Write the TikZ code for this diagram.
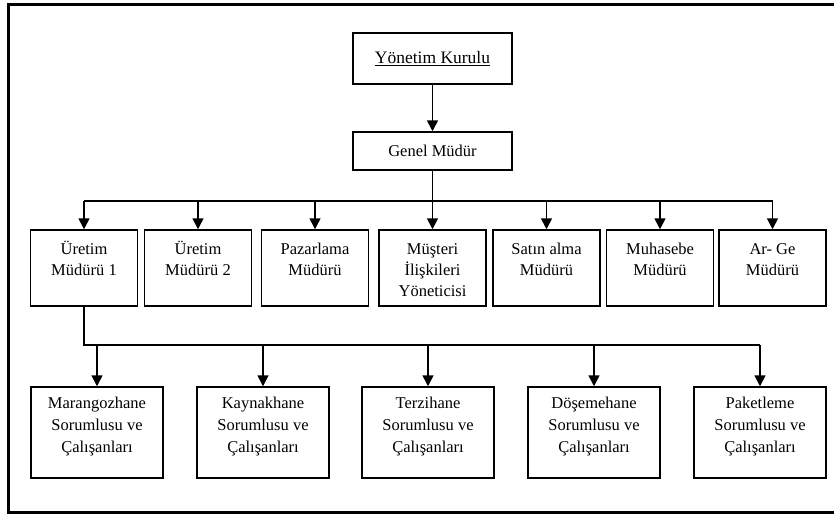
\documentclass[tikz,border=0pt]{standalone}
\usepackage{fontspec}
\setmainfont{Liberation Serif}
\usetikzlibrary{arrows.meta}
\newcommand{\boxtxt}[4]{\parbox[c][#1pt][t]{#2pt}{\centering\vspace*{#3pt}\strut #4\par}}
\begin{document}
\begin{tikzpicture}[x=1pt,y=-1pt,
  box/.style={draw,line width=1.5pt,inner sep=0pt,fill=white},
  lvtwo/.style={box,minimum width=107pt,minimum height=76pt,font=\fontsize{16.5}{21}\selectfont},
  lvthree/.style={box,minimum width=132pt,minimum height=91pt,font=\fontsize{16.5}{22}\selectfont},
  conn/.style={line width=1.6pt},
  arr/.style={conn,-{Triangle[length=11pt,width=11pt]}}
]
\useasboundingbox (0,0) rectangle (834,515);
\fill[white] (0,0) rectangle (834,515);
\draw[line width=3pt] (836,4) -- (8,4) -- (8,512) -- (836,512);

\node[box,minimum width=159pt,minimum height=51pt,font=\fontsize{17.5}{20}\selectfont] (yk) at (432.5,58.5) {\underline{Yönetim Kurulu}};
\node[box,minimum width=159pt,minimum height=38pt,font=\fontsize{16.5}{20}\selectfont] (gm) at (432.5,151) {Genel Müdür};

\node[lvtwo] (b1) at (84,268)    {\boxtxt{76}{105}{9.5}{Üretim\\Müdürü 1}};
\node[lvtwo] (b2) at (198,268)   {\boxtxt{76}{105}{9.5}{Üretim\\Müdürü 2}};
\node[lvtwo] (b3) at (315,268)   {\boxtxt{76}{105}{9.5}{Pazarlama\\Müdürü}};
\node[lvtwo] (b4) at (432.5,268) {\boxtxt{76}{105}{9.5}{Müşteri\\İlişkileri\\Yöneticisi}};
\node[lvtwo] (b5) at (546.5,268) {\boxtxt{76}{105}{9.5}{Satın alma\\Müdürü}};
\node[lvtwo] (b6) at (660,268)   {\boxtxt{76}{105}{9.5}{Muhasebe\\Müdürü}};
\node[lvtwo] (b7) at (772.5,268) {\boxtxt{76}{105}{9.5}{Ar- Ge\\Müdürü}};

\node[lvthree] (c1) at (97,432.5)  {\boxtxt{91}{130}{6.5}{Marangozhane\\Sorumlusu ve\\Çalışanları}};
\node[lvthree] (c2) at (263,432.5) {\boxtxt{91}{130}{6.5}{Kaynakhane\\Sorumlusu ve\\Çalışanları}};
\node[lvthree] (c3) at (428,432.5) {\boxtxt{91}{130}{6.5}{Terzihane\\Sorumlusu ve\\Çalışanları}};
\node[lvthree] (c4) at (594,432.5) {\boxtxt{91}{130}{6.5}{Döşemehane\\Sorumlusu ve\\Çalışanları}};
\node[lvthree] (c5) at (760,432.5) {\boxtxt{91}{130}{6.5}{Paketleme\\Sorumlusu ve\\Çalışanları}};

\coordinate (bus) at (0,201);
\coordinate (busthree) at (0,345);

\draw[arr] (yk.south) -- (gm.north);
\draw[arr] (gm.south) -- (b4.north);
\draw[conn] (b1.north |- bus) -- (b7.north |- bus);
\foreach \n in {b1,b2,b3,b5,b6,b7} \draw[arr] (\n.north |- bus) -- (\n.north);

\draw[conn] (b1.south) |- (c5.north |- busthree);
\foreach \n in {c1,c2,c3,c4,c5} \draw[arr] (\n.north |- busthree) -- (\n.north);
\end{tikzpicture}
\end{document}
